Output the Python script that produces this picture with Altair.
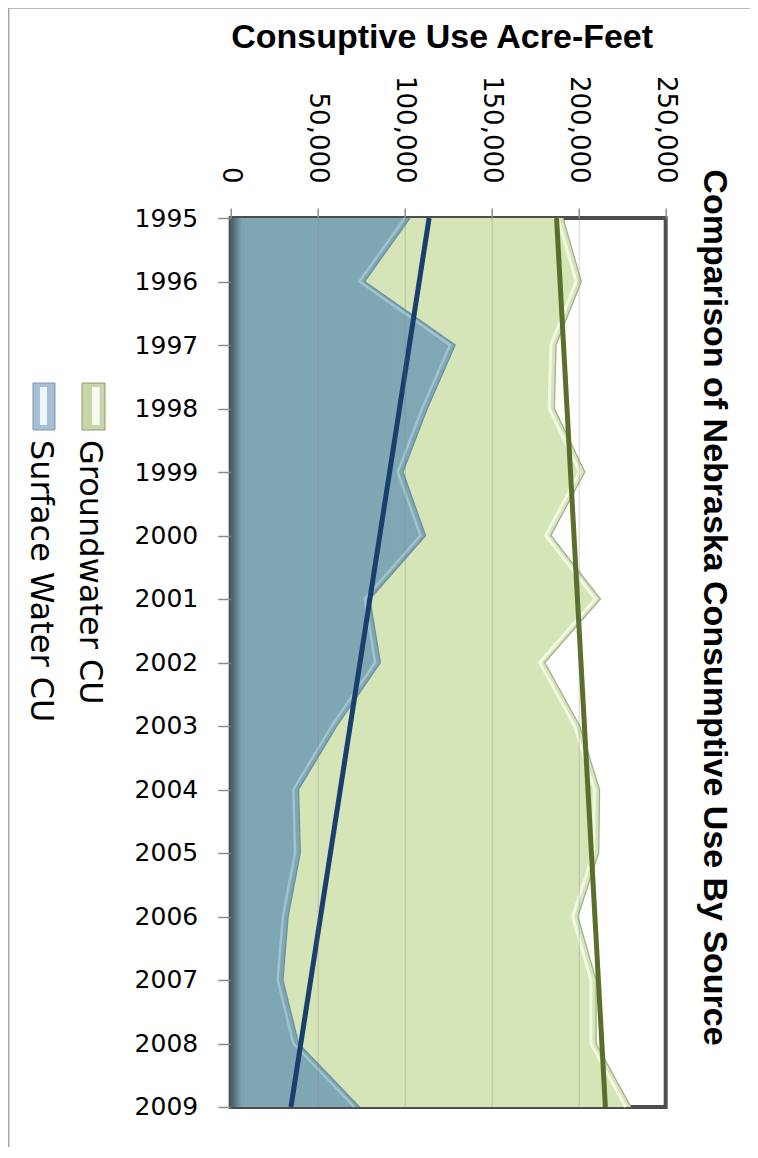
import altair as alt
import pandas as pd

# ---- data ----
years = list(range(1995, 2010))
surface_cu = [103000, 77000, 129000, 113000, 99000, 112000, 80000, 86000,
              61000, 39000, 40000, 33000, 30000, 39000, 74000]
groundwater_cu = [88000, 124500, 58000, 73000, 104500, 72000, 132500, 94500,
                  139600, 173000, 171500, 166500, 180000, 171000, 156000]
value_ticks = [0, 50000, 100000, 150000, 200000, 250000]
series_names = ["Groundwater CU", "Surface Water CU"]
chart_title = "Comparison of Nebraska Consumptive Use By Source"
axis_title = "Consuptive Use Acre-Feet"

df = pd.DataFrame({"year": years, "surface": surface_cu, "ground": groundwater_cu})

W, H = 435, 889
xscale = alt.Scale(domain=[0, 250000], nice=False, zero=True)
yscale = alt.Scale(domain=[1995, 2009], nice=False, zero=False, reverse=True)

base = alt.Chart(df).transform_calculate(
    total="datum.surface + datum.ground",
    total_hi="datum.surface + datum.ground - 3000",
    surface_hi="datum.surface - 3000")

x_axis = alt.Axis(
    orient="top", values=value_ticks, format=",.0f", labelAngle=90,
    labelAlign="right", labelBaseline="middle", labelPadding=25,
    labelFont="DejaVu Sans", labelFontSize=26, labelColor="#000000",
    labelFlush=False, labelOverlap=False,
    tickSize=10, tickColor="#8c8c8c", tickWidth=1.5, domain=False,
    grid=True, gridColor="#7d7d7d", gridOpacity=0.35, gridWidth=1,
    title=axis_title, titleFont="Liberation Sans", titleFontSize=34,
    titleFontWeight="bold", titleColor="#000000", titleX=211, titleY=-171,
    titleAlign="center", titleBaseline="alphabetic", titleAngle=0, zindex=1)

y_axis = alt.Axis(
    orient="left", values=years, format="d", labelFont="DejaVu Sans",
    labelFontSize=25, labelColor="#000000", labelPadding=20,
    labelAlign="right", labelBaseline="middle", labelOverlap=False,
    tickSize=13, tickColor="#8c8c8c", tickWidth=1.5, domain=False,
    grid=False, title=None)


def Y():
    return alt.Y("year:Q", scale=yscale, axis=y_axis)


def X(field):
    return alt.X(field, scale=xscale, axis=x_axis)


blue_fill = alt.Gradient(
    gradient="linear",
    stops=[alt.GradientStop(color="#3e5863", offset=0),
           alt.GradientStop(color="#7fa6b3", offset=0.05),
           alt.GradientStop(color="#80a7b4", offset=1)],
    x1=0, x2=1, y1=0, y2=0)

green = base.mark_area(orient="horizontal", color="#d5e5b7").encode(
    y=Y(), x=X("total:Q"), x2="surface:Q")

blue = base.mark_area(orient="horizontal", color=blue_fill).encode(
    y=Y(), x=X("surface:Q"), x2=alt.datum(0))

# soft bevel highlights just inside each edge
green_hi = base.mark_line(color="#f7fbeb", strokeWidth=3, opacity=0.85).encode(
    y=Y(), x=X("total_hi:Q"), order="year:Q")
blue_hi = base.mark_line(color="#aed0d9", strokeWidth=2.5, opacity=0.7).encode(
    y=Y(), x=X("surface_hi:Q"), order="year:Q")

green_edge = base.mark_line(color="#a3b08c", strokeWidth=1.3).encode(
    y=Y(), x=X("total:Q"), order="year:Q")
blue_edge = base.mark_line(color="#6c909c", strokeWidth=1.3).encode(
    y=Y(), x=X("surface:Q"), order="year:Q")

blue_trend = alt.Chart(df).transform_regression("year", "surface").mark_line(
    color="#183f6d", strokeWidth=5).encode(x=X("surface:Q"), y=Y())

green_trend = base.transform_regression("year", "total").mark_line(
    color="#5a6f2c", strokeWidth=5).encode(x=X("total:Q"), y=Y())

one = pd.DataFrame({"k": [0]})

title_mark = alt.Chart(pd.DataFrame({"label": [chart_title]})).mark_text(
    angle=90, align="center", baseline="alphabetic", font="Liberation Sans",
    fontSize=34, fontWeight="bold", color="#000000").encode(
    text="label:N", x=alt.value(473), y=alt.value(389.5))

# legend (drawn rotated like the reference)
leg_green_box = alt.Chart(one).mark_rect(fill="#c7d6a7", stroke="#8d9b74", strokeWidth=1).encode(
    x=alt.value(-148.7), x2=alt.value(-125.7), y=alt.value(165), y2=alt.value(212))
leg_green_hi = alt.Chart(one).mark_rect(fill="#f7fbef").encode(
    x=alt.value(-138.7), x2=alt.value(-131), y=alt.value(169), y2=alt.value(207))
leg_blue_box = alt.Chart(one).mark_rect(fill="#a6bfd6", stroke="#7d96ae", strokeWidth=1).encode(
    x=alt.value(-197.7), x2=alt.value(-175.7), y=alt.value(165), y2=alt.value(212))
leg_blue_hi = alt.Chart(one).mark_rect(fill="#eef5fb").encode(
    x=alt.value(-190.7), x2=alt.value(-183.7), y=alt.value(169), y2=alt.value(207))

leg_green_txt = alt.Chart(pd.DataFrame({"label": [series_names[0]]})).mark_text(
    angle=90, align="left", baseline="alphabetic", font="DejaVu Sans",
    fontSize=32, color="#000000").encode(
    text="label:N", x=alt.value(-150.7), y=alt.value(222))
leg_blue_txt = alt.Chart(pd.DataFrame({"label": [series_names[1]]})).mark_text(
    angle=90, align="left", baseline="alphabetic", font="DejaVu Sans",
    fontSize=32, color="#000000").encode(
    text="label:N", x=alt.value(-199.7), y=alt.value(222))

border_left = alt.Chart(one).mark_rule(color="#a6a6a6", strokeWidth=1.5).encode(
    x=alt.value(-222), y=alt.value(-210), y2=alt.value(930))
border_top = alt.Chart(one).mark_rule(color="#a6a6a6", strokeWidth=1.5).encode(
    x=alt.value(-222), x2=alt.value(520), y=alt.value(-210))

chart = alt.layer(
    green, blue, green_hi, blue_hi, green_edge, blue_edge, blue_trend, green_trend,
    title_mark, leg_green_box, leg_green_hi, leg_blue_box, leg_blue_hi,
    leg_green_txt, leg_blue_txt, border_left, border_top
).properties(
    width=W, height=H,
    autosize=alt.AutoSizeParams(type="none"),
    padding={"left": 222.7, "top": 210, "right": 84, "bottom": 40}
).configure(background="white").configure_view(stroke="#4d4d4d", strokeWidth=4)

chart.save("out.html", embed_options={"renderer": "svg", "actions": False})
